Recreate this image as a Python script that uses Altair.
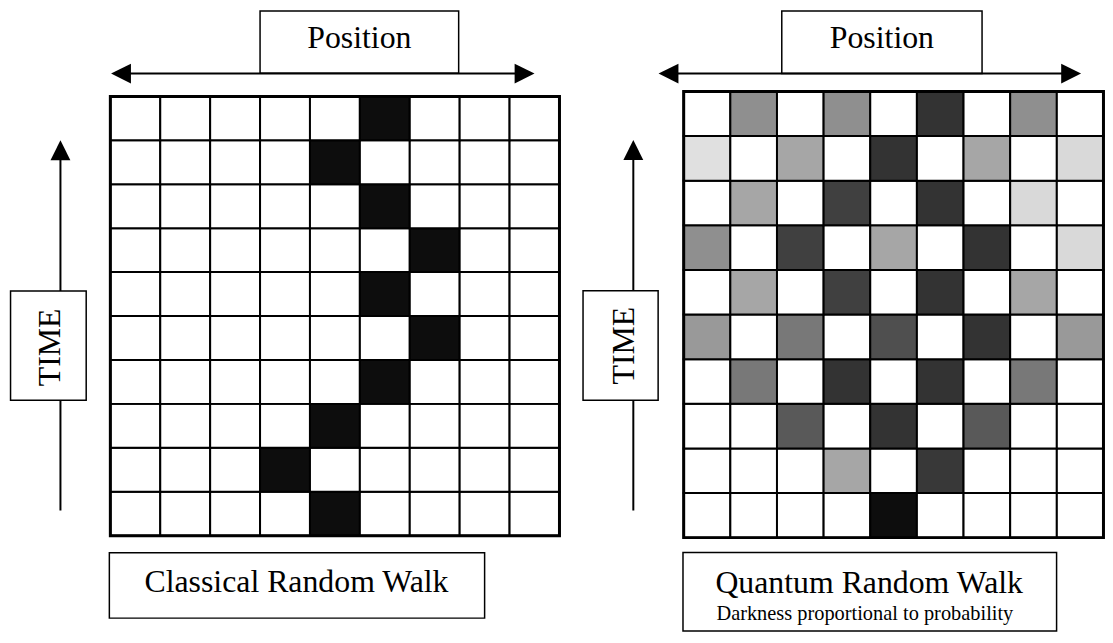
import altair as alt
import pandas as pd

# ---------------- data ----------------
positions = list(range(9))        # position index (columns)
time_steps = list(range(10))      # time index (rows, 0 = bottom)

# classical walk: occupied position at each time step (t = 0 .. 9)
classical_path = [4, 3, 4, 5, 6, 5, 6, 5, 4, 5]
classical_darkness = 0.95

# quantum walk: darkness (probability) per position, one list per time step
quantum_t0 = [0, 0, 0, 0, 0.95, 0, 0, 0, 0]
quantum_t1 = [0, 0, 0, 0.35, 0, 0.78, 0, 0, 0]
quantum_t2 = [0, 0, 0.65, 0, 0.80, 0, 0.65, 0, 0]
quantum_t3 = [0, 0.53, 0, 0.80, 0, 0.80, 0, 0.53, 0]
quantum_t4 = [0.40, 0, 0.53, 0, 0.69, 0, 0.80, 0, 0.40]
quantum_t5 = [0, 0.35, 0, 0.75, 0, 0.80, 0, 0.35, 0]
quantum_t6 = [0.44, 0, 0.75, 0, 0.35, 0, 0.80, 0, 0.15]
quantum_t7 = [0, 0.35, 0, 0.75, 0, 0.80, 0, 0.15, 0]
quantum_t8 = [0.12, 0, 0.35, 0, 0.80, 0, 0.35, 0, 0.15]
quantum_t9 = [0, 0.44, 0, 0.44, 0, 0.80, 0, 0.44, 0]
quantum_rows = [quantum_t0, quantum_t1, quantum_t2, quantum_t3, quantum_t4,
                quantum_t5, quantum_t6, quantum_t7, quantum_t8, quantum_t9]

axis_label_h = "Position"
axis_label_v = "TIME"
title_left = "Classical Random Walk"
title_right = "Quantum Random Walk"
subtitle_right = "Darkness proportional to probability"

classical_df = pd.DataFrame(
    [{"pos": p, "t": t, "darkness": classical_darkness if classical_path[t] == p else 0.0}
     for t in time_steps for p in positions])
quantum_df = pd.DataFrame(
    [{"pos": p, "t": t, "darkness": quantum_rows[t][p]}
     for t in time_steps for p in positions])

# ---------------- layout (in grid units of each panel) ----------------
W, H = 1104, 627
FONT = "Liberation Serif"

left_layout = {
    "xdom": [-2.051, 19.932], "ydom": [-2.217, 11.968],
    "boxes": [
        (3.0, 6.98, 10.53, 11.946),     # Position box
        (-2.0, -0.484, 3.084, 5.572),   # TIME box
        (-0.02, 7.50, -0.391, -1.878),  # title box
    ],
    "hlines": [(0.2, 8.3, 10.52, 10.52)],
    "vlines": [(-1.0, -1.0, 0.572, 8.8)],
    "heads": [(0.014, 10.52, "L"), (8.50, 10.52, "R"), (-1.0, 9.0, "U")],
    "texts": [
        (4.99, 11.093, axis_label_h, 32, 0),
        (-1.0, 4.287, axis_label_v, 32, 270),
        (3.73, -1.290, title_left, 32, 0),
    ],
}
right_layout = {
    "xdom": [-14.487, 9.033], "ydom": [-2.138, 11.826],
    "boxes": [
        (2.103, 6.397, 10.40, 11.804),
        (-2.158, -0.548, 3.080, 5.532),
        (-0.015, 7.995, -0.334, -2.094),
    ],
    "hlines": [(-0.33, 8.3, 10.40, 10.40)],
    "vlines": [(-1.08, -1.08, 0.608, 8.7)],
    "heads": [(-0.539, 10.40, "L"), (8.52, 10.40, "R"), (-1.08, 8.91, "U")],
    "texts": [
        (4.25, 10.964, axis_label_h, 32, 0),
        (-1.059, 4.303, axis_label_v, 32, 270),
        (3.977, -1.247, title_right, 32, 0),
        (3.884, -1.842, subtitle_right, 20.5, 0),
    ],
}

HEAD_SHAPES = {"R": "M0,0L-2,-1L-2,1Z", "L": "M0,0L2,-1L2,1Z", "U": "M0,0L-1,2L1,2Z"}


def panel(cells_df, lay):
    sx = alt.Scale(domain=lay["xdom"], nice=False, zero=False)
    sy = alt.Scale(domain=lay["ydom"], nice=False, zero=False)

    def xe(f):
        return alt.X(f, type="quantitative", scale=sx, axis=None)

    def ye(f):
        return alt.Y(f, type="quantitative", scale=sy, axis=None)

    cells = alt.Chart(cells_df).transform_calculate(
        pos2="datum.pos + 1", t2="datum.t + 1"
    ).mark_rect(stroke="black", strokeWidth=2).encode(
        x=xe("pos"), x2="pos2:Q", y=ye("t"), y2="t2:Q",
        color=alt.Color("darkness:Q",
                        scale=alt.Scale(domain=[0, 1], range=["#ffffff", "#000000"],
                                        interpolate="rgb"),
                        legend=None),
    )
    border_df = pd.DataFrame({"x0": [0], "x1": [len(positions)],
                              "y0": [0], "y1": [len(time_steps)]})
    border = alt.Chart(border_df).mark_rect(filled=False, stroke="black", strokeWidth=3).encode(
        x=xe("x0"), x2="x1:Q", y=ye("y0"), y2="y1:Q")

    vline_df = pd.DataFrame(lay["vlines"], columns=["x0", "x1", "y0", "y1"])
    vlines = alt.Chart(vline_df).mark_rule(color="black", strokeWidth=2).encode(
        x=xe("x0"), x2="x1:Q", y=ye("y0"), y2="y1:Q")

    box_df = pd.DataFrame(lay["boxes"], columns=["x0", "x1", "y0", "y1"])
    boxes = alt.Chart(box_df).mark_rect(fill="white", stroke="black", strokeWidth=1.5).encode(
        x=xe("x0"), x2="x1:Q", y=ye("y0"), y2="y1:Q")

    hline_df = pd.DataFrame(lay["hlines"], columns=["x0", "x1", "y0", "y1"])
    hlines = alt.Chart(hline_df).mark_rule(color="black", strokeWidth=2).encode(
        x=xe("x0"), x2="x1:Q", y=ye("y0"), y2="y1:Q")

    head_df = pd.DataFrame(lay["heads"], columns=["x", "y", "kind"])
    head_df["shape"] = head_df["kind"].map(HEAD_SHAPES)
    heads = alt.Chart(head_df).mark_point(filled=True, color="black", size=400,
                                          opacity=1, strokeWidth=0).encode(
        x=xe("x"), y=ye("y"), shape=alt.Shape("shape:N", scale=None))

    text_df = pd.DataFrame(lay["texts"], columns=["x", "y", "label", "fs", "ang"])
    texts = alt.Chart(text_df).mark_text(font=FONT, color="black", align="center",
                                         baseline="alphabetic").encode(
        x=xe("x"), y=ye("y"), text="label:N",
        size=alt.Size("fs:Q", scale=None),
        angle=alt.Angle("ang:Q", scale=None))

    return alt.layer(cells, border, vlines, boxes, hlines, heads, texts)


chart = alt.layer(
    panel(classical_df, left_layout),
    panel(quantum_df, right_layout),
).resolve_scale(x="independent", y="independent").properties(
    width=W, height=H, padding=0,
    autosize=alt.AutoSizeParams(type="none"),
).configure_view(stroke=None)

chart.save("out.html", embed_options={"renderer": "svg", "actions": False})
